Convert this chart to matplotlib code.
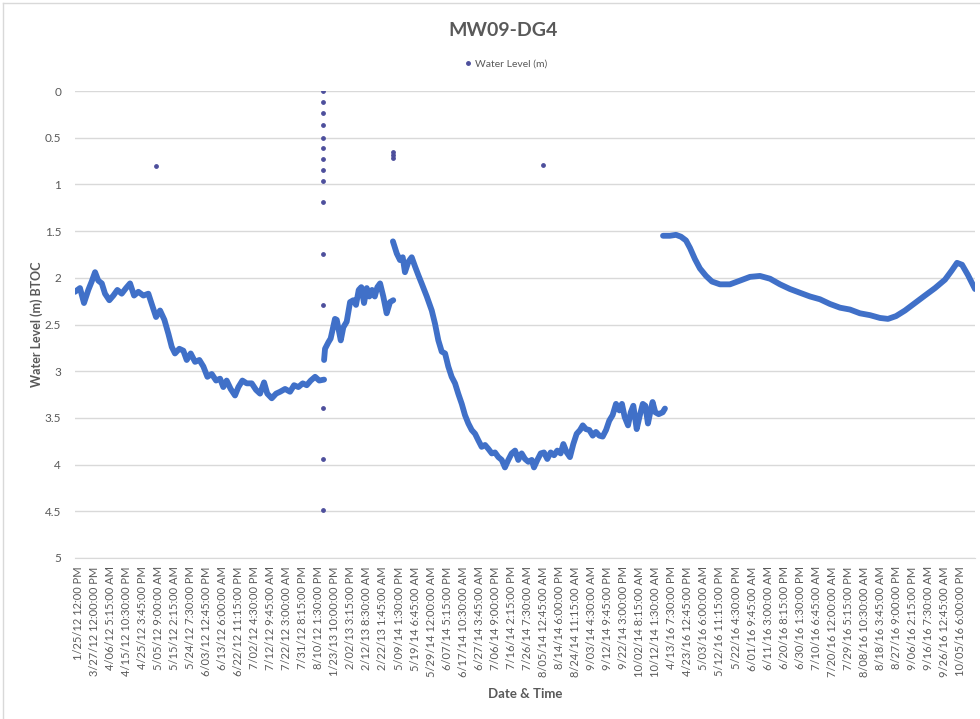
import matplotlib.pyplot as plt
from matplotlib.lines import Line2D

# category positions are in units of tick-label steps (one label per step)
tick_labels = [
    "1/25/12 12:00 PM", "3/27/12 12:00:00 PM", "4/06/12 5:15:00 AM", "4/15/12 10:30:00 PM",
    "4/25/12 3:45:00 PM", "5/05/12 9:00:00 AM", "5/15/12 2:15:00 AM", "5/24/12 7:30:00 PM",
    "6/03/12 12:45:00 PM", "6/13/12 6:00:00 AM", "6/22/12 11:15:00 PM", "7/02/12 4:30:00 PM",
    "7/12/12 9:45:00 AM", "7/22/12 3:00:00 AM", "7/31/12 8:15:00 PM", "8/10/12 1:30:00 PM",
    "1/23/13 10:00:00 PM", "2/02/13 3:15:00 PM", "2/12/13 8:30:00 AM", "2/22/13 1:45:00 AM",
    "5/09/14 1:30:00 PM", "5/19/14 6:45:00 AM", "5/29/14 12:00:00 AM", "6/07/14 5:15:00 PM",
    "6/17/14 10:30:00 AM", "6/27/14 3:45:00 AM", "7/06/14 9:00:00 PM", "7/16/14 2:15:00 PM",
    "7/26/14 7:30:00 AM", "8/05/14 12:45:00 AM", "8/14/14 6:00:00 PM", "8/24/14 11:15:00 AM",
    "9/03/14 4:30:00 AM", "9/12/14 9:45:00 PM", "9/22/14 3:00:00 PM", "10/02/14 8:15:00 AM",
    "10/12/14 1:30:00 AM", "4/13/16 7:30:00 PM", "4/23/16 12:45:00 PM", "5/03/16 6:00:00 AM",
    "5/12/16 11:15:00 PM", "5/22/16 4:30:00 PM", "6/01/16 9:45:00 AM", "6/11/16 3:00:00 AM",
    "6/20/16 8:15:00 PM", "6/30/16 1:30:00 PM", "7/10/16 6:45:00 AM", "7/20/16 12:00:00 AM",
    "7/29/16 5:15:00 PM", "8/08/16 10:30:00 AM", "8/18/16 3:45:00 AM", "8/27/16 9:00:00 PM",
    "9/06/16 2:15:00 PM", "9/16/16 7:30:00 AM", "9/26/16 12:45:00 AM", "10/05/16 6:00:00 PM",
]

# 2012 logger run
x_2012 = [-0.19, 0.12, 0.37, 0.64, 0.85, 1.06, 1.26, 1.48, 1.68, 1.95, 2.20, 2.45, 2.72, 2.99,
          3.24, 3.49, 3.76, 4.07, 4.38, 4.59, 4.86, 5.11, 5.38, 5.63, 5.84, 6.04, 6.31, 6.56,
          6.77, 7.02, 7.29, 7.56, 7.81, 8.06, 8.33, 8.60, 8.85, 9.05, 9.26, 9.51, 9.78, 9.99,
          10.24, 10.51, 10.82, 11.09, 11.34, 11.59, 11.79, 12.07, 12.34, 12.59, 12.90, 13.21,
          13.46, 13.73, 14.00, 14.25, 14.50, 14.77, 15.03, 15.33]
wl_2012 = [2.15, 2.11, 2.27, 2.13, 2.04, 1.94, 2.03, 2.06, 2.17, 2.24, 2.19, 2.13, 2.17, 2.11,
           2.06, 2.19, 2.15, 2.19, 2.17, 2.28, 2.42, 2.35, 2.45, 2.60, 2.74, 2.81, 2.76, 2.78,
           2.88, 2.81, 2.90, 2.88, 2.95, 3.06, 3.03, 3.10, 3.08, 3.17, 3.10, 3.19, 3.26, 3.17,
           3.10, 3.13, 3.13, 3.20, 3.24, 3.12, 3.24, 3.29, 3.24, 3.22, 3.19, 3.22, 3.15, 3.17,
           3.13, 3.15, 3.10, 3.06, 3.10, 3.09]

# 2013 logger run
x_2013 = [15.33, 15.39, 15.60, 15.74, 16.01, 16.12, 16.37, 16.53, 16.74, 16.95, 17.15, 17.32,
          17.49, 17.65, 17.82, 17.99, 18.15, 18.32, 18.49, 18.65, 18.82, 19.02, 19.23, 19.44,
          19.64]
wl_2013 = [2.88, 2.76, 2.69, 2.65, 2.44, 2.45, 2.67, 2.53, 2.47, 2.26, 2.24, 2.29,
           2.13, 2.10, 2.27, 2.11, 2.20, 2.13, 2.20, 2.10, 2.06, 2.20, 2.38, 2.26,
           2.24]

# 2014 logger run
x_2014 = [19.62, 19.86, 20.06, 20.23, 20.37, 20.58, 20.79, 21.00, 21.20, 21.41, 21.73, 22.04,
          22.24, 22.45, 22.66, 22.87, 23.07, 23.28, 23.49, 23.69, 23.91, 24.11, 24.32, 24.53,
          24.74, 24.94, 25.15, 25.36, 25.56, 25.78, 25.98, 26.19, 26.40, 26.60, 26.81, 27.02,
          27.23, 27.43, 27.64, 27.85, 28.06, 28.27, 28.41, 28.62, 28.83, 29.03, 29.24, 29.45,
          29.66, 29.86, 30.07, 30.24, 30.45, 30.65, 30.86, 31.07, 31.28, 31.45, 31.65, 31.86,
          32.07, 32.27, 32.48, 32.69, 32.90, 33.10, 33.31, 33.52, 33.73, 33.89, 34.06, 34.27,
          34.44, 34.60, 34.81, 34.98, 35.19, 35.35, 35.51, 35.68, 35.80, 35.97, 36.18, 36.43,
          36.57]
wl_2014 = [1.61, 1.74, 1.81, 1.78, 1.94, 1.83, 1.78, 1.88, 1.97, 2.06, 2.20, 2.35,
           2.49, 2.67, 2.79, 2.81, 2.95, 3.06, 3.13, 3.24, 3.35, 3.47, 3.56, 3.63,
           3.67, 3.74, 3.81, 3.79, 3.83, 3.88, 3.87, 3.92, 3.95, 4.03, 3.95, 3.88,
           3.85, 3.95, 3.88, 3.94, 3.97, 3.95, 4.03, 3.95, 3.88, 3.87, 3.94, 3.87,
           3.90, 3.85, 3.88, 3.78, 3.87, 3.92, 3.78, 3.67, 3.63, 3.58, 3.62, 3.63,
           3.69, 3.65, 3.69, 3.70, 3.63, 3.53, 3.47, 3.35, 3.42, 3.35, 3.49, 3.58,
           3.44, 3.37, 3.62, 3.49, 3.35, 3.37, 3.56, 3.42, 3.33, 3.44, 3.46, 3.44,
           3.40]

# 2016 logger run
x_2016 = [36.45, 36.88, 37.26, 37.57, 37.88, 38.13, 38.44, 38.75, 39.13, 39.50, 40.00, 40.62,
          41.25, 41.87, 42.49, 43.12, 43.74, 44.36, 44.98, 45.61, 46.23, 46.85, 47.48, 48.10,
          48.72, 49.35, 49.97, 50.47, 50.97, 51.53, 52.15, 52.77, 53.40, 54.02, 54.45, 54.77,
          55.08, 55.45, 55.89]
wl_2016 = [1.55, 1.55, 1.54, 1.56, 1.60, 1.68, 1.80, 1.90, 1.98, 2.04, 2.07, 2.07,
           2.03, 1.99, 1.98, 2.01, 2.07, 2.12, 2.16, 2.20, 2.23, 2.28, 2.32, 2.34,
           2.38, 2.40, 2.43, 2.44, 2.41, 2.35, 2.27, 2.19, 2.11, 2.02, 1.92, 1.84,
           1.86, 1.97, 2.12]

# stray readings (logger pulled / re-installed)
x_stray = [4.86, 15.26, 15.26, 15.26, 15.26, 15.26, 15.26, 15.26, 15.26, 15.26, 15.26,
           15.26, 15.26, 15.26, 15.26, 15.26, 19.63, 19.63, 19.63, 28.97]
wl_stray = [0.80, 0.00, 0.12, 0.24, 0.36, 0.50, 0.61, 0.73, 0.85, 0.96, 1.19,
            1.74, 2.29, 3.39, 3.94, 4.49, 0.65, 0.68, 0.72, 0.79]

LINE_BLUE = "#4070C8"
DOT_PURPLE = "#4d4f9c"
TEXT_GRAY = "#595959"

plt.rcParams["font.family"] = ["Lato", "DejaVu Sans"]

fig = plt.figure(figsize=(9.8, 7.19), dpi=100)
ax = fig.add_axes([75 / 980, 1 - 558 / 719, 900 / 980, 467 / 719])

for xs, ys in [(x_2012, wl_2012), (x_2013, wl_2013), (x_2014, wl_2014), (x_2016, wl_2016)]:
    ax.plot(xs, ys, color=LINE_BLUE, lw=4.2, solid_joinstyle="round",
            solid_capstyle="round", zorder=3)
ax.scatter(x_stray, wl_stray, s=6, color=DOT_PURPLE, zorder=4)

ax.set_ylim(5, 0)
ax.set_yticks([0, 0.5, 1, 1.5, 2, 2.5, 3, 3.5, 4, 4.5, 5])
ax.set_yticklabels(["0", "0.5", "1", "1.5", "2", "2.5", "3", "3.5", "4", "4.5", "5"])
ax.set_xlim(-0.19, 55.89)
ax.set_xticks(range(len(tick_labels)))
ax.set_xticklabels(tick_labels, rotation=90)

ax.grid(axis="y", color="#d9d9d9", lw=1)
ax.set_axisbelow(True)
for side in ["top", "right", "left"]:
    ax.spines[side].set_visible(False)
ax.spines["bottom"].set_color("#d9d9d9")
ax.tick_params(axis="y", length=0, pad=10, labelsize=8.5, labelcolor=TEXT_GRAY)
ax.tick_params(axis="x", length=0, pad=6, labelsize=8, labelcolor=TEXT_GRAY)

ax.set_ylabel("Water Level (m) BTOC", fontsize=9, fontweight="bold", color=TEXT_GRAY, labelpad=1)
ax.set_xlabel("Date & Time", fontsize=9.5, fontweight="bold", color=TEXT_GRAY, labelpad=8)

fig.text(0.513, 0.958, "MW09-DG4", ha="center", va="center", fontsize=14,
         fontweight="bold", color=TEXT_GRAY)
handle = Line2D([], [], ls="none", marker="o", ms=2.5, color=DOT_PURPLE)
fig.legend([handle], ["Water Level (m)"], loc="center", bbox_to_anchor=(0.515, 0.911),
           frameon=False, fontsize=7.5, labelcolor=TEXT_GRAY, handletextpad=0.2,
           handlelength=1.0)

# chart area outline
fig.add_artist(Line2D([0.003, 0.003], [0, 0.996], color="#d9d9d9", lw=1))
fig.add_artist(Line2D([0.003, 1], [0.996, 0.996], color="#d9d9d9", lw=1))

fig.savefig("out.png", dpi=100)
